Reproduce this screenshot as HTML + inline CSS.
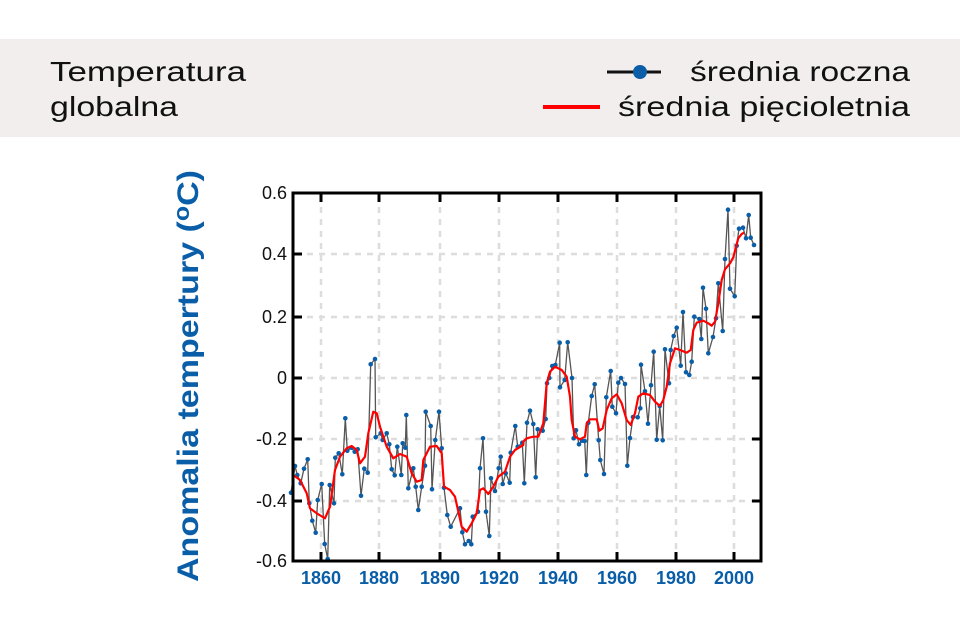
<!DOCTYPE html>
<html><head><meta charset="utf-8"><style>
html,body{margin:0;padding:0;background:#fff;}
svg{display:block;}
</style></head><body>
<svg id="s" width="960" height="640" viewBox="0 0 960 640" xmlns="http://www.w3.org/2000/svg" font-family="Liberation Sans, sans-serif">
<rect x="0" y="39" width="960" height="98" fill="#f2eeee"/>
<text x="50" y="81" font-size="28" textLength="196" lengthAdjust="spacingAndGlyphs" fill="#111">Temperatura</text>
<text x="50" y="116" font-size="28" textLength="128" lengthAdjust="spacingAndGlyphs" fill="#111">globalna</text>
<line x1="607" y1="72" x2="661" y2="72" stroke="#111" stroke-width="3"/>
<circle cx="640" cy="72" r="7" fill="#0a5ea8"/>
<text x="690" y="81" font-size="28" textLength="220" lengthAdjust="spacingAndGlyphs" fill="#111">średnia roczna</text>
<line x1="543" y1="107" x2="600" y2="107" stroke="#f00" stroke-width="4"/>
<text x="618" y="116" font-size="28" textLength="292" lengthAdjust="spacingAndGlyphs" fill="#111">średnia pięcioletnia</text>
<text transform="translate(198,376) rotate(-90)" text-anchor="middle" font-size="30" font-weight="bold" fill="#0a5ea8" textLength="412" lengthAdjust="spacingAndGlyphs">Anomalia tempertury (<tspan font-size="22" dy="-9">o</tspan><tspan dy="9">C)</tspan></text>
<g id="grid" stroke="#dddddd" stroke-width="2.5" stroke-dasharray="6,6"></g>
<g id="ylab" font-size="18" fill="#111" text-anchor="end"></g>
<g id="xlab" font-size="18" font-weight="bold" fill="#0a5ea8" text-anchor="middle"></g>
<polyline id="gray" fill="none" stroke="#555" stroke-width="1.3"/>
<g id="dots" fill="#0a5ea8"></g>
<polyline id="red" fill="none" stroke="#f00" stroke-width="2.2" stroke-linejoin="round"/>
<rect x="293" y="193" width="468" height="368" fill="none" stroke="#000" stroke-width="3"/>
<g id="ticks" stroke="#000" stroke-width="3"></g>
</svg>
<script>
var NS="http://www.w3.org/2000/svg";
function el(p,t,a,txt){var e=document.createElementNS(NS,t);for(var k in a)e.setAttribute(k,a[k]);if(txt)e.textContent=txt;document.getElementById(p).appendChild(e);}
var xs=[321,379,440,499,558,617,676,734],xl=["1860","1880","1890","1920","1940","1960","1980","2000"];
var ys=[193,254,317,378,439,501,561],yl=["0.6","0.4","0.2","0","-0.2","-0.4","-0.6"];
xs.forEach(function(x,i){el("grid","line",{x1:x,y1:195,x2:x,y2:559});
el("ticks","line",{x1:x,y1:193,x2:x,y2:202});el("ticks","line",{x1:x,y1:561,x2:x,y2:552});
el("xlab","text",{x:x,y:584},xl[i]);});
ys.forEach(function(y,i){if(i>0&&i<6){el("grid","line",{x1:295,y1:y,x2:759,y2:y});
el("ticks","line",{x1:293,y1:y,x2:302,y2:y});el("ticks","line",{x1:761,y1:y,x2:752,y2:y});}
el("ylab","text",{x:287,y:y+6},yl[i]);});
var z1=[[33,938],[45,858],[52,885],[62,910],[72,866],[83,838],[88,970],[97,1022],[107,1058],[113,960],[125,912],[134,1092],[143,1137],[149,915],[162,970],[166,833],[176,820],[187,883],[196,715],[202,812],[214,803],[224,815],[233,808],[243,947],[253,866],[263,878],[272,553],[285,537],[287,772],[302,760],[308,780],[320,760],[328,793],[335,868],[344,886],[352,800],[364,885],[368,790],[376,803],[379,705],[385,925],[400,865],[407,920],[415,990],[425,920],[435,857],[437,695],[452,738],[456,928],[466,780],[477,695],[485,805],[492,923],[502,1005],[512,1040],[540,985],[547,1057],[555,1093],[566,1083],[574,1093],[578,1010],[594,995],[600,865],[609,775],[618,995],[628,1068],[633,895],[645,933],[656,865],[662,830],[668,912],[677,880],[689,908],[692,818],[706,738],[713,800],[727,788],[733,910],[741,728]];
var z2=[[30,692],[40,732],[47,892],[53,748],[68,752],[77,717],[81,610],[88,594],[97,558],[106,555],[119,488],[120,622],[134,600],[143,487],[156,594],[161,775],[168,751],[177,793],[186,782],[194,783],[199,885],[205,728],[215,648],[224,613],[236,781],[241,840],[252,882],[259,652],[272,573],[277,680],[288,700],[295,608],[303,594],[315,612],[322,857],[330,774],[339,711],[353,712],[361,685],[363,554],[375,634],[384,731],[393,616],[401,515],[410,779],[419,678],[428,781],[435,508],[447,610],[452,510],[461,468],[470,443],[482,557],[489,396],[498,577],[508,585],[515,545],[523,410],[538,417],[544,477],[549,323],[558,386],[565,520],[579,471],[588,415],[595,310],[608,453],[615,237],[624,89],[630,326],[644,349],[650,197],[657,146],[669,143],[678,175],[686,105],[692,173],[702,195]];
var pts=[];z1.forEach(function(p){pts.push([280+p[0]/3,180+p[1]/3]);});z2.forEach(function(p){pts.push([520+p[0]/3,180+p[1]/3]);});
document.getElementById("gray").setAttribute("points",pts.map(function(p){return p[0].toFixed(1)+","+p[1].toFixed(1)}).join(" "));
pts.forEach(function(p){el("dots","circle",{cx:p[0].toFixed(1),cy:p[1].toFixed(1),r:2.3});});
var r1=[[40,885],[60,900],[80,940],[90,985],[110,1000],[135,1015],[150,980],[165,870],[180,830],[200,805],[215,798],[230,810],[240,850],[255,830],[265,760],[280,695],[290,700],[300,740],[320,800],[340,835],[360,822],[380,830],[395,880],[410,905],[425,900],[430,840],[450,800],[470,798],[485,820],[492,920],[510,930],[525,950],[545,1040],[560,1055],[575,1030],[590,1000],[600,930],[610,925],[625,942],[640,920],[655,890],[675,875],[690,830],[705,810],[730,795]];
var r2=[[10,785],[20,775],[40,770],[55,770],[70,730],[80,610],[90,575],[105,560],[125,570],[140,590],[150,650],[155,720],[165,770],[180,778],[195,770],[200,730],[210,718],[230,718],[238,752],[248,745],[260,690],[275,655],[290,643],[305,670],[320,720],[332,735],[345,700],[355,650],[370,640],[390,645],[405,665],[420,678],[430,660],[440,620],[450,550],[465,505],[480,510],[500,518],[512,510],[520,450],[530,428],[550,422],[565,430],[575,437],[585,425],[595,370],[605,300],[615,268],[630,250],[640,232],[648,200],[655,175],[665,162],[672,158]];
var rp=[];r1.forEach(function(p){rp.push((280+p[0]/3).toFixed(1)+","+(180+p[1]/3).toFixed(1));});r2.forEach(function(p){rp.push((520+p[0]/3).toFixed(1)+","+(180+p[1]/3).toFixed(1));});
document.getElementById("red").setAttribute("points",rp.join(" "));
</script>
</body></html>
